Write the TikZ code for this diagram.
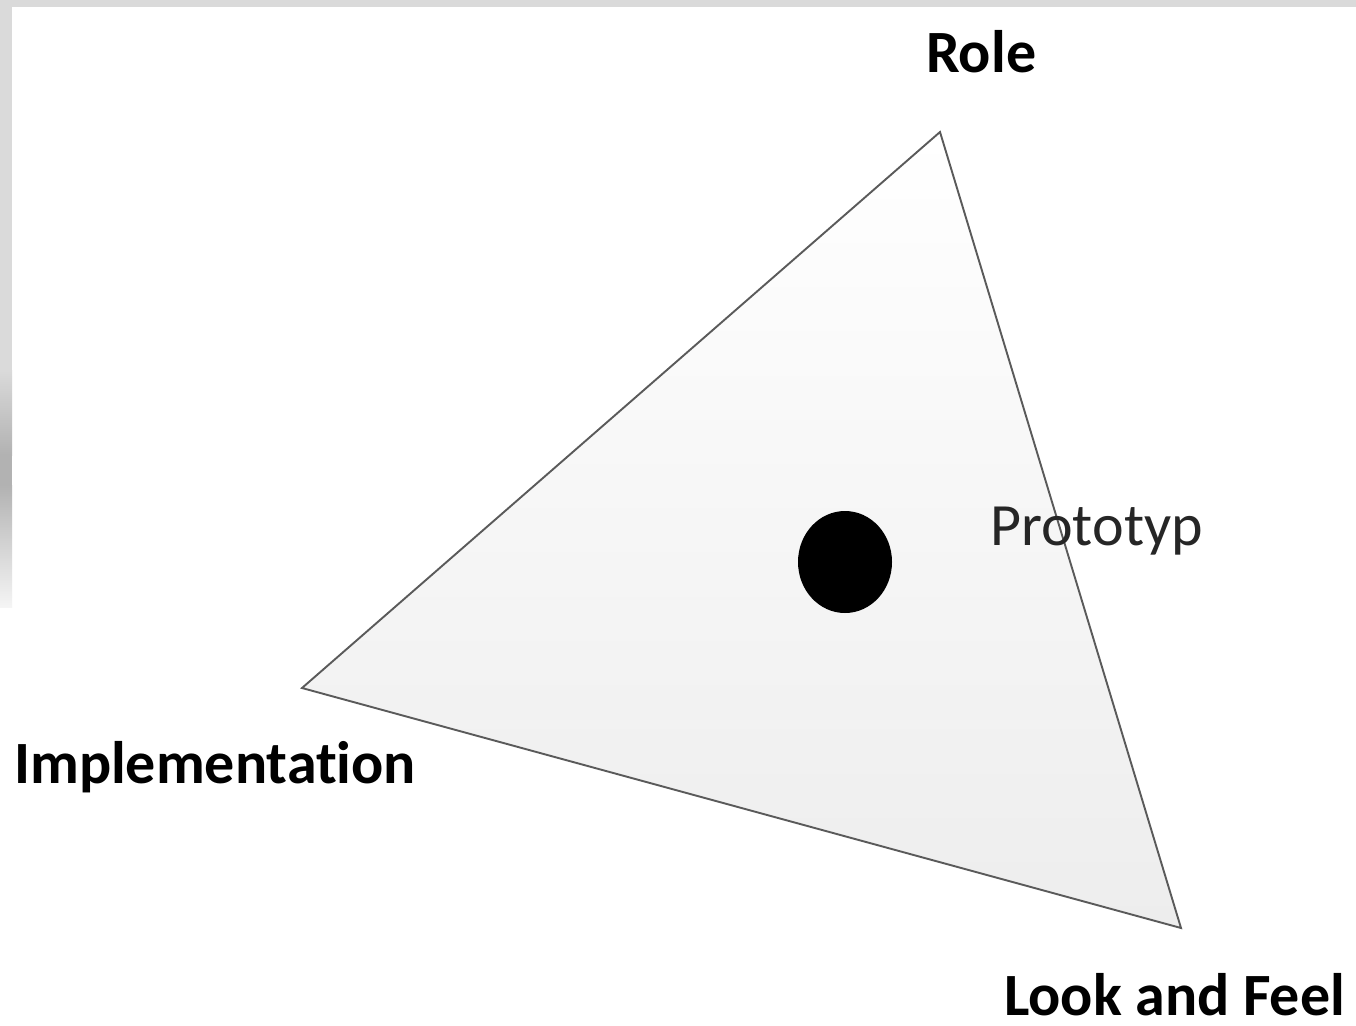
\documentclass[tikz,border=0pt]{standalone}
\usepackage{fontspec}
\setmainfont{Carlito}[Ligatures=NoCommon]
\usepackage{tikz}
\usetikzlibrary{positioning, shapes.geometric}
\definecolor{FrameGray}{HTML}{DADADA}
\definecolor{FrameDark}{HTML}{B2B2B2}
\definecolor{EdgeGray}{HTML}{5A5A5A}
\definecolor{FillLow}{HTML}{EDEDED}

\tikzset{
    cornerlabel/.style={anchor=base west, inner sep=0pt, font=\fontsize{60}{72}\selectfont\bfseries},
    protolabel/.style={anchor=base west, inner sep=0pt, font=\fontsize{60}{72}\selectfont, text=black!85},
}

\begin{document}
\begin{tikzpicture}[x=1pt, y=-1pt]
\useasboundingbox (0,0) rectangle (1356,1025);
\fill[white] (0,0) rectangle (1356,1025);

% frame
\fill[FrameGray] (0,0) rectangle (1356,7);
\fill[FrameGray] (0,0) rectangle (12,370);
\shade[top color=FrameGray, bottom color=FrameDark] (0,370) rectangle (12,455);
\fill[FrameDark] (0,455) rectangle (12,485);
\shade[top color=FrameDark, bottom color=white!96!black] (0,485) rectangle (12,607);

% triangle
\coordinate (role) at (940,132);
\coordinate (impl) at (302,688);
\coordinate (laf) at (1181,928);
\shade[top color=white, bottom color=FillLow] (role) -- (impl) -- (laf) -- cycle;
\draw[EdgeGray, line width=1.9pt, line join=miter] (role) -- (impl) -- (laf) -- cycle;

% prototype point
\node[
    ellipse,
    fill=black,
    minimum width=94pt,
    minimum height=102pt,
    inner sep=0pt
] (proto) at (845,562) {};

% labels
\node[cornerlabel] (rolelabel) at (926,73) {Role};
\node[cornerlabel] (impllabel) at (14,783) {Implementation};
\node[cornerlabel] (laflabel) at (1004,1015) {Look and Feel};
\node[protolabel] (protolabel) at (990,545) {Prototyp};
\end{tikzpicture}
\end{document}
